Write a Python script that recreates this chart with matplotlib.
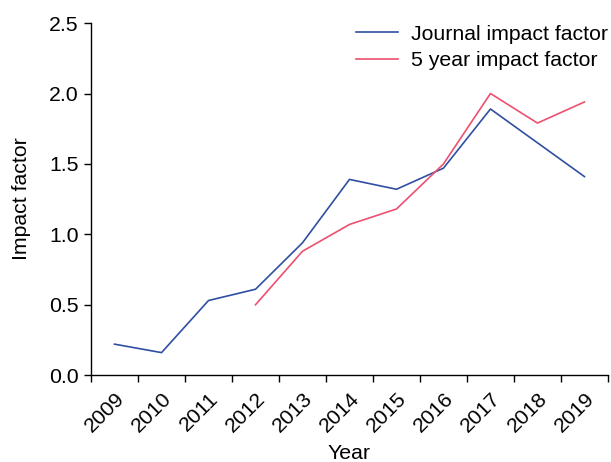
import matplotlib
matplotlib.use("Agg")
import matplotlib.pyplot as plt
import numpy as np

years = ["2009", "2010", "2011", "2012", "2013", "2014", "2015", "2016", "2017", "2018", "2019"]
journal_if = [0.22, 0.16, 0.53, 0.61, 0.94, 1.39, 1.32, 1.47, 1.89, 1.65, 1.41]
five_year_years = ["2012", "2013", "2014", "2015", "2016", "2017", "2018", "2019"]
five_year_if = [0.50, 0.88, 1.07, 1.18, 1.50, 2.00, 1.79, 1.94]
yticks = [0.0, 0.5, 1.0, 1.5, 2.0, 2.5]

plt.rcParams['font.family'] = ['Liberation Sans', 'DejaVu Sans']
FS = 15.3

fig = plt.figure(figsize=(6.11, 4.62), dpi=100)
ax = fig.add_axes([0.149, 0.188, 0.846, 0.762])

x = np.arange(len(years))
x5 = np.array([years.index(y) for y in five_year_years])

ax.plot(x, journal_if, color='#2F4FA2', lw=1.2, label='Journal impact factor')
ax.plot(x5, five_year_if, color='#EE5070', lw=1.2, label='5 year impact factor')

ax.set_xlim(-0.5, len(years) - 0.5)
ax.set_ylim(0, 2.5)
ax.set_yticks(yticks)
ax.set_yticklabels([f"{v:.1f}" for v in yticks], fontsize=FS)

ax.set_xticks(np.arange(len(years) + 1) - 0.5)
ax.set_xticklabels([])
ax.set_xticks(x, minor=True)
ax.set_xticklabels(years, minor=True, rotation=45, ha='right', rotation_mode='anchor', fontsize=FS)
ax.tick_params(axis='x', which='minor', length=0, pad=10)
ax.tick_params(axis='both', which='major', length=5, width=1, direction='out')
ax.tick_params(axis='y', pad=4)

for s in ['top', 'right']:
    ax.spines[s].set_visible(False)
for s in ['left', 'bottom']:
    ax.spines[s].set_linewidth(1)

ax.set_xlabel('Year', fontsize=FS, labelpad=6)
ax.set_ylabel('Impact factor', fontsize=FS, labelpad=13)

ax.legend(loc='upper right', frameon=False, fontsize=FS, handlelength=2.0,
          handletextpad=0.6, labelspacing=0.35,
          borderaxespad=0.0, bbox_to_anchor=(1.017, 1.02))

fig.savefig('out.png', dpi=100)
